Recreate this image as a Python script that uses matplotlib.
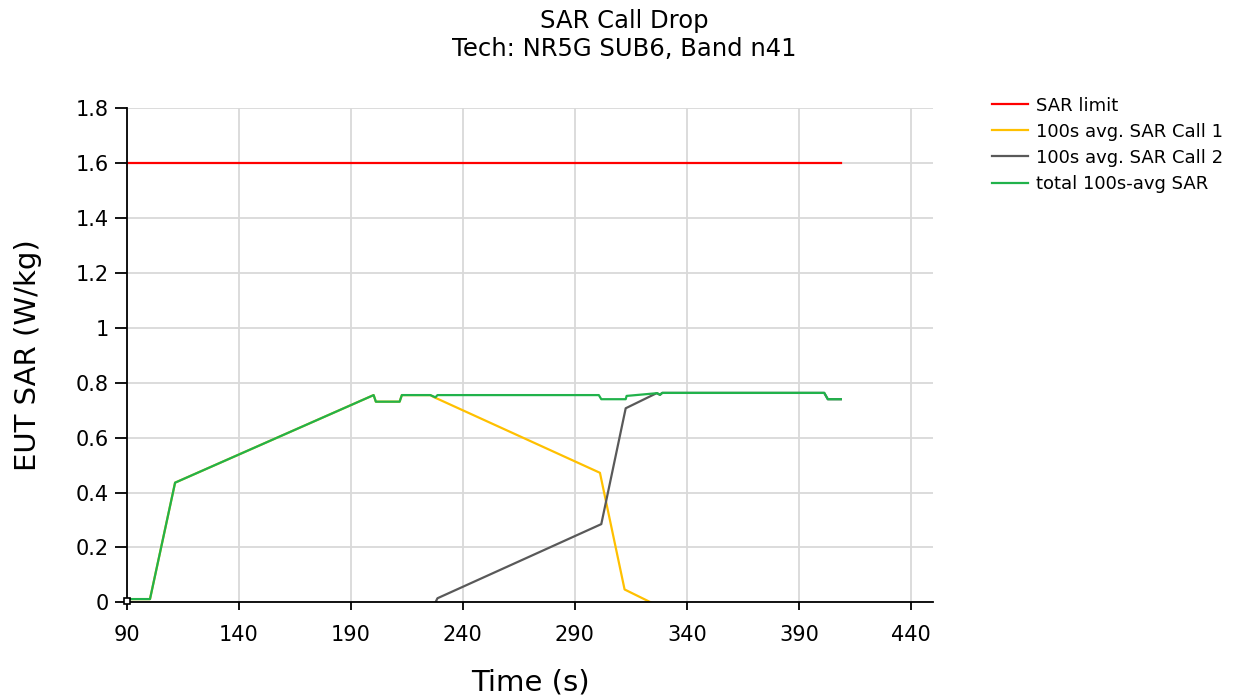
import numpy as np
import matplotlib.pyplot as plt

# data (time in s, SAR in W/kg)
limit_t = [90, 408.7]
limit_v = [1.6, 1.6]

total_t = [90, 100.4, 111.6, 200.2, 201.2, 211.8, 212.8, 225.5, 227.8, 228.7,
           300.7, 301.8, 312.7, 313.1, 326.8, 328.0, 329.0, 401.3, 402.9, 408.7]
total_v = [0.012, 0.012, 0.436, 0.755, 0.731, 0.731, 0.755, 0.755, 0.747, 0.755,
           0.755, 0.740, 0.740, 0.752, 0.762, 0.756, 0.763, 0.763, 0.740, 0.740]

call1_t = [90, 100.4, 111.6, 200.2, 201.2, 211.8, 212.8, 225.5, 227.0,
           301.2, 312.2, 323.9]
call1_v = [0.012, 0.012, 0.436, 0.755, 0.731, 0.731, 0.755, 0.755, 0.748,
           0.472, 0.047, 0.0]

call2_t = [227.8, 228.7, 301.8, 312.7, 326.5, 328.0, 329.0, 401.3, 402.9, 408.7]
call2_v = [0.0, 0.015, 0.285, 0.707, 0.762, 0.756, 0.763, 0.763, 0.740, 0.740]

xticks = np.arange(90, 441, 50)
yticks = np.arange(0, 1.81, 0.2)
ylabels = ['0', '0.2', '0.4', '0.6', '0.8', '1', '1.2', '1.4', '1.6', '1.8']

fig = plt.figure(figsize=(12.42, 6.98), dpi=100)
ax = fig.add_axes([0.102, 0.137, 0.6495, 0.708])

ax.plot(limit_t, limit_v, color='#ff0000', lw=1.6, label='SAR limit')
ax.plot(call1_t, call1_v, color='#ffc000', lw=1.6, label='100s avg. SAR Call 1')
ax.plot(call2_t, call2_v, color='#595959', lw=1.6, label='100s avg. SAR Call 2')
ax.plot(total_t, total_v, color='#21b24b', lw=1.6, label='total 100s-avg SAR')
ax.plot(total_t[:1], [0.005], 's', ms=5, mfc='white', mec='black', mew=1.2,
        zorder=5, clip_on=False)

ax.set_xlim(90, 450)
ax.set_ylim(0, 1.8)
ax.set_xticks(xticks)
ax.set_yticks(yticks)
ax.set_yticklabels(ylabels)
ax.tick_params(axis='both', labelsize=15, direction='out', width=1.3)
ax.tick_params(axis='x', length=6, pad=10)
ax.tick_params(axis='y', length=9, pad=4)
ax.grid(True, color='#d9d9d9', lw=1.3)
ax.set_axisbelow(True)
for s in ['top', 'right']:
    ax.spines[s].set_visible(False)
for s in ['left', 'bottom']:
    ax.spines[s].set_linewidth(1.3)

ax.set_xlabel('Time (s)', fontsize=21, labelpad=17)
ax.set_ylabel('EUT SAR (W/kg)', fontsize=21, labelpad=24)

fig.text(0.503, 0.987, 'SAR Call Drop\nTech: NR5G SUB6, Band n41',
         ha='center', va='top', fontsize=17.5, linespacing=1.2)

fig.legend(loc='upper left', bbox_to_anchor=(0.7925, 0.872), frameon=False,
           fontsize=13, handlelength=2.0, handletextpad=0.45,
           labelspacing=0.45, borderaxespad=0)

fig.savefig('out.png', dpi=100)
